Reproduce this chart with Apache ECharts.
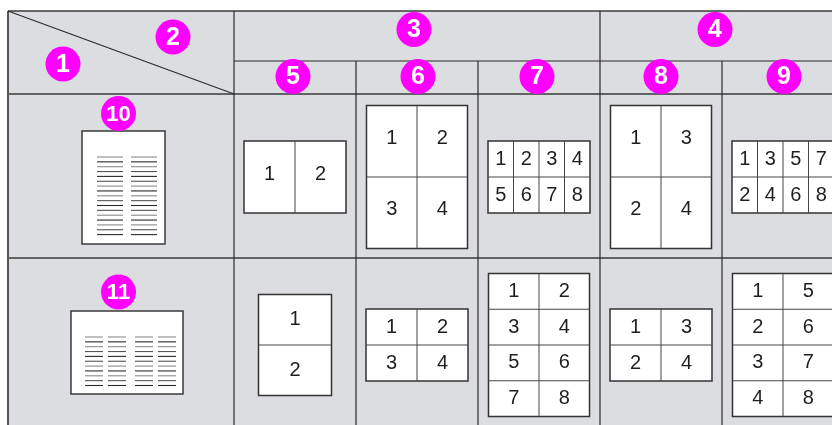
<!DOCTYPE html>
<html><head><meta charset="utf-8">
<script src="https://cdn.jsdelivr.net/npm/echarts@6/dist/echarts.min.js"></script>
<style>html,body{margin:0;padding:0;background:#fff}#c{width:832px;height:425px}</style>
</head><body><div id="c"></div>
<script>
// ---- content ----
const cornerLabels = ['1', '2'];
const groupLabels = ['3', '4'];
const columnLabels = ['5', '6', '7', '8', '9'];
const rowLabels = ['10', '11'];
// sheet layouts for each row / column: [columns, rows, kind, numbers]
const row1Sheets = [
  [2, 1, 'land', [1, 2]],
  [2, 2, 'big', [1, 2, 3, 4]],
  [4, 2, 'land', [1, 2, 3, 4, 5, 6, 7, 8]],
  [2, 2, 'big', [1, 3, 2, 4]],
  [4, 2, 'land', [1, 3, 5, 7, 2, 4, 6, 8]]
];
const row2Sheets = [
  [1, 2, 'port', [1, 2]],
  [2, 2, 'land', [1, 2, 3, 4]],
  [2, 4, 'big', [1, 2, 3, 4, 5, 6, 7, 8]],
  [2, 2, 'land', [1, 3, 2, 4]],
  [2, 4, 'big', [1, 5, 2, 6, 3, 7, 4, 8]]
];
const sourceTextColumns = [2, 4];
const sourceTextLines = [17, 11];

// ---- layout (diagram units = pixels on hidden axes) ----
const colEdges = [8, 234, 356, 478, 600, 722, 844];
const rowEdges = [11, 61, 94, 258, 440];
const sheetSize = { land: [102, 72], port: [73, 101], big: [101, 143] };
const rowCenters = [177, 345];

const FONT = '"Liberation Sans", Arial, Helvetica, sans-serif';
const MAG = '#ff00ff';
const LINE = '#2b2b2b';

function renderAll(params, api) {
  const P = (x, y) => api.coord([x, y]);
  const ch = [];
  const line = (x1, y1, x2, y2, w, c) => {
    const a = P(x1, y1), b = P(x2, y2);
    ch.push({ type: 'line', shape: { x1: a[0], y1: a[1], x2: b[0], y2: b[1] }, style: { stroke: c || LINE, lineWidth: w || 1.2 } });
  };
  const rect = (x, y, w, h, fill, stroke, lw) => {
    const a = P(x, y), b = P(x + w, y + h);
    ch.push({ type: 'rect', shape: { x: a[0], y: a[1], width: b[0] - a[0], height: b[1] - a[1] }, style: { fill: fill, stroke: stroke || null, lineWidth: lw || 0 } });
  };
  const text = (x, y, s, size, color, weight) => {
    const a = P(x, y);
    ch.push({ type: 'text', x: a[0], y: a[1], style: { text: s, fill: color, font: (weight || 'normal') + ' ' + size + 'px ' + FONT, align: 'center', verticalAlign: 'middle' } });
  };
  const badge = (x, y, s) => {
    const a = P(x, y);
    ch.push({ type: 'circle', shape: { cx: a[0], cy: a[1], r: 17.5 }, style: { fill: MAG } });
    text(x, y + 1, s, s.length > 1 ? 22 : 25, '#fff', 'bold');
  };

  // table background
  rect(colEdges[0], rowEdges[0], 832 - colEdges[0] + 20, 440, '#dcdde0');
  // horizontal rules
  line(colEdges[0], rowEdges[0], 844, rowEdges[0], 1.6, '#3a3a3a');
  line(colEdges[1], rowEdges[1], 844, rowEdges[1], 1.2);
  line(colEdges[0], rowEdges[2], 844, rowEdges[2], 1.6, '#3a3a3a');
  line(colEdges[0], rowEdges[3], 844, rowEdges[3], 1.6, '#3a3a3a');
  // vertical rules
  line(colEdges[0], rowEdges[0], colEdges[0], 440, 2, '#555');
  line(colEdges[1], rowEdges[0], colEdges[1], 440, 1.2);
  line(colEdges[4], rowEdges[0], colEdges[4], 440, 1.2);
  [2, 3, 5].forEach(i => line(colEdges[i], rowEdges[1], colEdges[i], 440, 1.2));
  // diagonal
  line(colEdges[0], rowEdges[0], colEdges[1], rowEdges[2], 1.2);

  // corner badges
  badge(63, 64, cornerLabels[0]);
  badge(173, 37, cornerLabels[1]);
  // group badges
  badge(414, 29.5, groupLabels[0]);
  badge(715, 29.5, groupLabels[1]);
  // column badges
  const colBadgeX = [293, 418, 537, 661, 784];
  columnLabels.forEach((s, i) => badge(colBadgeX[i], 76.5, s));

  // source sheets
  const src = [[82, 131, 83, 113, [15, 49], 26], [71, 311, 112, 83, [14, 37, 64, 87], 18]];
  src.forEach((g, r) => {
    const [x, y, w, h, offs, lw] = g;
    rect(x, y, w, h, '#fff', '#3a3a3a', 1.5);
    for (let c = 0; c < sourceTextColumns[r]; c++) {
      for (let k = 0; k < sourceTextLines[r]; k++) {
        const yy = y + 26 + k * 4.85;
        const col = (k % 3 === 1) ? '#2a2a2a' : (k % 2 ? '#555' : '#8a8a8a');
        line(x + offs[c], yy, x + offs[c] + lw, yy, 1.1, col);
      }
    }
  });
  badge(118.5, 113.5, rowLabels[0]);
  badge(118.5, 292, rowLabels[1]);

  // output sheets
  [row1Sheets, row2Sheets].forEach((rowData, r) => {
    rowData.forEach((sh, c) => {
      const [nc, nr, kind, nums] = sh;
      const [w, h] = sheetSize[kind];
      const cx = (colEdges[c + 1] + colEdges[c + 2]) / 2;
      const cy = rowCenters[r];
      const x0 = cx - w / 2, y0 = cy - h / 2;
      rect(x0, y0, w, h, '#fff', '#333', 1.5);
      for (let i = 1; i < nc; i++) line(x0 + w * i / nc, y0, x0 + w * i / nc, y0 + h, 1, '#444');
      for (let j = 1; j < nr; j++) line(x0, y0 + h * j / nr, x0 + w, y0 + h * j / nr, 1, '#444');
      nums.forEach((n, k) => {
        const i = k % nc, j = Math.floor(k / nc);
        const tx = x0 + w * (i + 0.5) / nc;
        const ty = y0 + h * (j + 0.5) / nr - (h / nr > 60 ? 3 : 0);
        text(tx, ty, String(n), 20, '#1e1e1e');
      });
    });
  });

  return { type: 'group', children: ch };
}

const chart = echarts.init(document.getElementById('c'), null, { renderer: 'canvas' });
chart.setOption({
  animation: false,
  grid: { left: 0, right: 0, top: 0, bottom: 0 },
  xAxis: { type: 'value', min: 0, max: 832, show: false },
  yAxis: { type: 'value', min: 0, max: 425, inverse: true, show: false },
  series: [{ type: 'custom', renderItem: renderAll, data: [[0, 0]], clip: true, silent: true }]
});
</script></body></html>
